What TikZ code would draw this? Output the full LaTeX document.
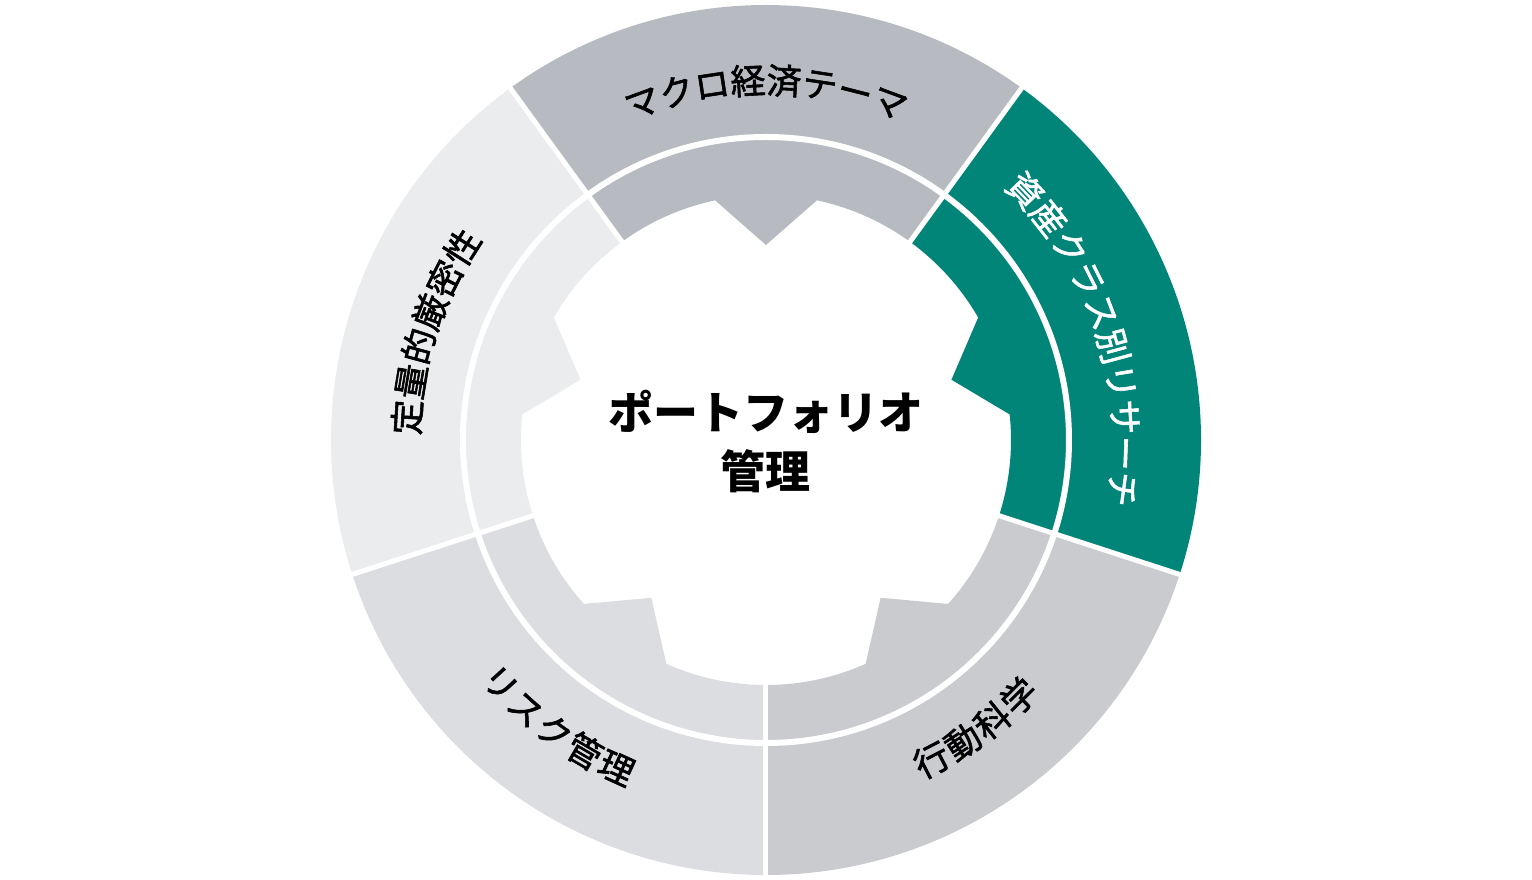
\documentclass[tikz,border=0pt]{standalone}
\usepackage{fontspec}
\newfontfamily\cjk{Noto Sans CJK JP}
\newfontfamily\cjkm{Noto Sans CJK JP}[FakeBold=1.6]
\definecolor{cTop}{HTML}{B7BBC1}
\definecolor{cGreen}{HTML}{008578}
\definecolor{cLR}{HTML}{C9CBCF}
\definecolor{cLL}{HTML}{DCDDE0}
\definecolor{cLeft}{HTML}{EBECEE}
\def\sp{5.75}
\def\rr{360pt}
\tikzset{
  lab/.style={font=\cjkm\fontsize{35}{35}\selectfont, inner sep=0pt, text height=31pt, text depth=4pt},
  gapline/.style={white, line width=5pt},
  ringgap/.style={white, line width=6pt},
  title/.style={font=\cjk\bfseries\fontsize{45}{59}\selectfont, align=center, inner sep=0pt}
}
\newcommand\segfill[2]{%
  \fill[#2] (#1-36:435pt) arc[start angle=#1-36, end angle=#1+36, radius=435pt]
     -- (#1+36:245pt) arc[start angle=#1+36, end angle=#1+12, radius=245pt]
     -- (#1:195pt) -- (#1-12:245pt)
     arc[start angle=#1-12, end angle=#1-36, radius=245pt] -- cycle;}
\newcommand\arclabel[6]{%
  \foreach \ch [count=\i] in {#4} {
    \pgfmathsetmacro\th{#1+(#2)*\sp*((#3+1)/2-\i)}
    \pgfmathsetmacro\rot{\th-(#2)*90}
    \node[lab, text=#5, rotate=\rot] (#6\i) at (\th:\rr) {\ch};
  }}
\begin{document}
\begin{tikzpicture}[x=1pt,y=1pt]
\useasboundingbox (-766,-440) rectangle (766,440);
\segfill{90}{cTop}
\segfill{18}{cGreen}
\segfill{-54}{cLR}
\segfill{-126}{cLL}
\segfill{162}{cLeft}
\draw[ringgap] (0,0) circle[radius=303pt];
\foreach \a in {54,-18,-90,-162,126} \draw[gapline] (0,0) -- (\a:440pt);
\arclabel{90}{1}{8}{マ,ク,ロ,経,済,テ,ー,マ}{black}{mt}
\arclabel{18}{1}{10}{資,産,ク,ラ,ス,別,リ,サ,ー,チ}{white}{ac}
\arclabel{162}{1}{6}{定,量,的,厳,密,性}{black}{qr}
\arclabel{-54}{-1}{4}{行,動,科,学}{black}{bs}
\arclabel{-126}{-1}{5}{リ,ス,ク,管,理}{black}{rm}
\node[title] (pm) at (0,-1) {ポートフォリオ\\管理};
\end{tikzpicture}
\end{document}
